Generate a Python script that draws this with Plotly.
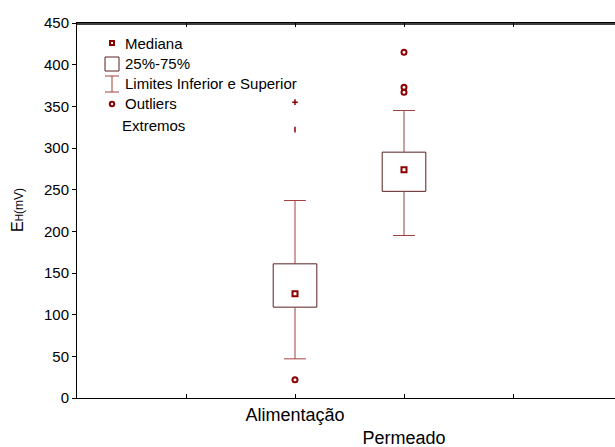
import plotly.graph_objects as go

# ---------------- data ----------------
categories = ["Alimentação", "Permeado"]
cat_pos = [1, 2]
q1 = [109, 248]
median = [125, 274]
q3 = [161, 295]
lower = [47, 195]
upper = [237, 345]
outliers_x = [1, 2, 2, 2]
outliers_y = [22, 415, 373, 367]
extremes_x = [1, 1]
extremes_y = [355, 322]
y_ticks = [0, 50, 100, 150, 200, 250, 300, 350, 400, 450]
x_tick_pos = [0, 1, 2, 3]
x_tick_text = ["", "Alimentação", "<br>Permeado", ""]
legend_labels = ["Mediana", "25%-75%", "Limites Inferior e Superior", "Outliers", "Extremos"]

# ---------------- style ----------------
BOX_HW = 0.2
CAP_HW = 0.1
BOX_COLOR = "#5a1f1f"
WHISK_COLOR = "#a04040"
MARK_COLOR = "#8b0000"
FONT = "Liberation Sans, Arial, sans-serif"

W, H = 615, 447
ML, MR, MT, MB = 77, 0, 23, 49

fig = go.Figure()

# boxes
bx, by = [], []
for c, a, b in zip(cat_pos, q1, q3):
    bx += [c - BOX_HW, c + BOX_HW, c + BOX_HW, c - BOX_HW, c - BOX_HW, None]
    by += [a, a, b, b, a, None]
fig.add_trace(go.Scatter(x=bx, y=by, mode="lines", line=dict(color=BOX_COLOR, width=1),
                         hoverinfo="skip", showlegend=False))

# whiskers
wx, wy = [], []
for c, a, b, lo, hi in zip(cat_pos, q1, q3, lower, upper):
    wx += [c, c, None, c, c, None]
    wy += [b, hi, None, a, lo, None]
    wx += [c - CAP_HW, c + CAP_HW, None, c - CAP_HW, c + CAP_HW, None]
    wy += [hi, hi, None, lo, lo, None]
fig.add_trace(go.Scatter(x=wx, y=wy, mode="lines", line=dict(color=WHISK_COLOR, width=1),
                         hoverinfo="skip", showlegend=False))

# medians
fig.add_trace(go.Scatter(x=cat_pos, y=median, mode="markers",
                         marker=dict(symbol="square-open", size=5, color=MARK_COLOR,
                                     line=dict(width=2, color=MARK_COLOR)),
                         showlegend=False))
# outliers
fig.add_trace(go.Scatter(x=outliers_x, y=outliers_y, mode="markers",
                         marker=dict(symbol="circle-open", size=5, color=MARK_COLOR,
                                     line=dict(width=2, color=MARK_COLOR)),
                         showlegend=False))
# extremes
fig.add_trace(go.Scatter(x=extremes_x, y=extremes_y, mode="markers",
                         marker=dict(symbol=["cross-thin-open", "line-ns-open"], size=4, color=MARK_COLOR,
                                     line=dict(width=1.5, color=MARK_COLOR)),
                         showlegend=False))

# ---------------- manual legend ----------------
PW = W - ML - MR
PH = H - MT - MB


def fx(px):
    return (px - ML) / PW


def fy(py):
    return (MT + PH - py) / PH


shapes = []
annotations = []
row_y = [43, 64, 84, 104, 125]
glyph_cx = 112
text_x = [123, 123, 123, 123, 120]

# top frame line
shapes.append(dict(type="line", xref="paper", yref="paper", x0=0, x1=1, y0=fy(24), y1=fy(24),
                   line=dict(color="black", width=1.5), layer="above"))

# Mediana glyph
shapes.append(dict(type="rect", xref="paper", yref="paper",
                   x0=fx(glyph_cx - 2), x1=fx(glyph_cx + 2), y0=fy(row_y[0] + 2), y1=fy(row_y[0] - 2),
                   line=dict(color=MARK_COLOR, width=2)))
# box glyph
shapes.append(dict(type="rect", xref="paper", yref="paper",
                   x0=fx(glyph_cx - 7), x1=fx(glyph_cx + 7), y0=fy(row_y[1] + 7), y1=fy(row_y[1] - 7),
                   line=dict(color=BOX_COLOR, width=1)))
# whisker glyph
for (x0, y0, x1, y1) in [(glyph_cx, row_y[2] - 8, glyph_cx, row_y[2] + 8),
                         (glyph_cx - 7, row_y[2] - 8, glyph_cx + 7, row_y[2] - 8),
                         (glyph_cx - 7, row_y[2] + 8, glyph_cx + 7, row_y[2] + 8)]:
    shapes.append(dict(type="line", xref="paper", yref="paper",
                       x0=fx(x0), y0=fy(y0), x1=fx(x1), y1=fy(y1),
                       line=dict(color=WHISK_COLOR, width=1)))
# outlier glyph
shapes.append(dict(type="circle", xref="paper", yref="paper",
                   x0=fx(glyph_cx - 2.2), x1=fx(glyph_cx + 2.2), y0=fy(row_y[3] + 2.2), y1=fy(row_y[3] - 2.2),
                   line=dict(color=MARK_COLOR, width=2)))

for lbl, ry, tx in zip(legend_labels, row_y, text_x):
    annotations.append(dict(text=lbl, xref="paper", yref="paper", x=fx(tx), y=fy(ry),
                            xanchor="left", yanchor="middle", showarrow=False,
                            font=dict(family=FONT, size=15, color="black")))

# y-axis title
annotations.append(dict(text="E<span style='font-size:10px'>H</span><span style='font-size:12px'>(mV)</span>",
                        xref="paper", yref="paper", x=fx(17), y=fy(210), textangle=-90,
                        xanchor="center", yanchor="middle", showarrow=False,
                        font=dict(family=FONT, size=16, color="black")))

fig.update_layout(
    width=W, height=H,
    margin=dict(l=ML, r=MR, t=MT, b=MB, pad=0),
    paper_bgcolor="white", plot_bgcolor="white",
    showlegend=False,
    shapes=shapes,
    annotations=annotations,
    xaxis=dict(range=[-1, -1 + PW / 109.0], tickvals=x_tick_pos, ticktext=x_tick_text,
               ticks="inside", ticklen=4, tickcolor="black", showline=True, linecolor="black",
               linewidth=1, mirror="allticks", showgrid=False, zeroline=False,
               tickfont=dict(family=FONT, size=18, color="black")),
    yaxis=dict(range=[0, 450], tickvals=y_ticks, ticks="outside", ticklen=4, tickcolor="black",
               showline=True, linecolor="black", linewidth=1, showgrid=False, zeroline=False,
               tickfont=dict(family=FONT, size=15, color="black")),
)

fig.write_html("out.html", config={"displayModeBar": False})
